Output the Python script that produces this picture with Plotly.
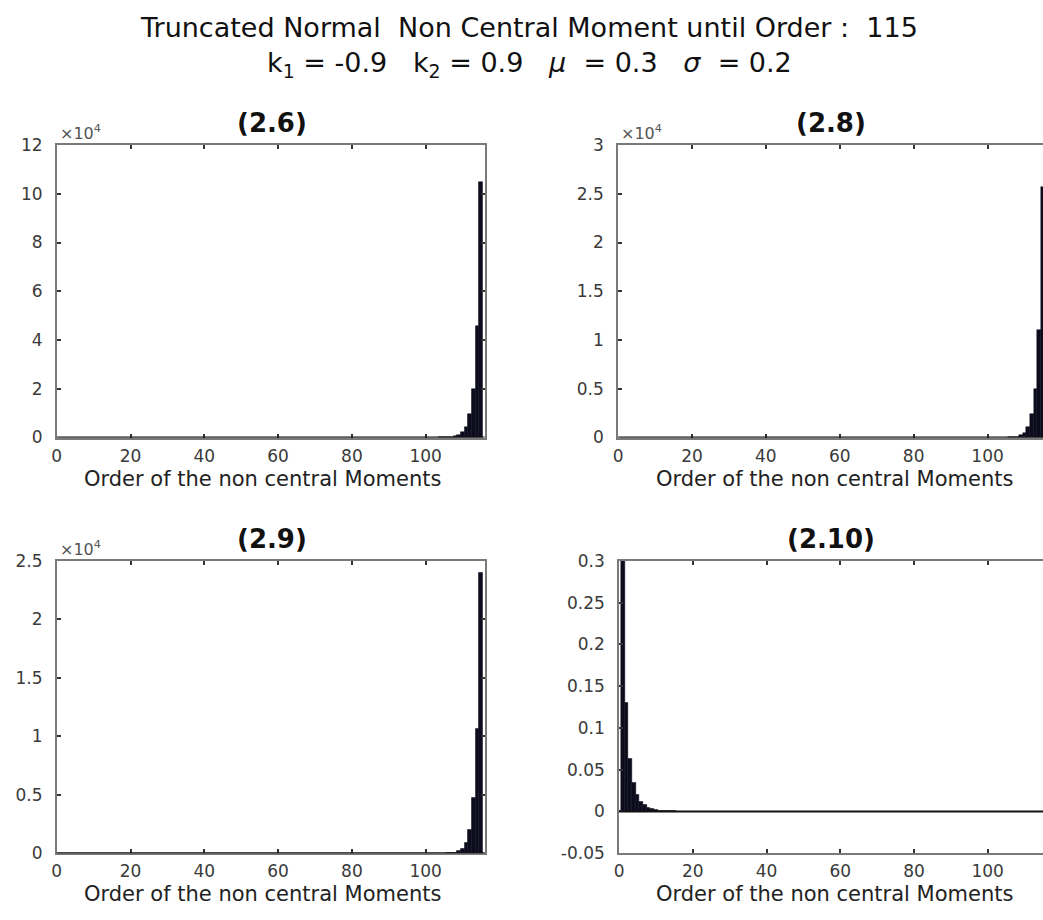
import plotly.graph_objects as go

# ---------------- data ----------------
orders = list(range(1, 116))

# (2.6)  values in units of 1e4, orders 1..115
m26 = [0.0] * 103 + [0.002, 0.004, 0.009, 0.02, 0.045, 0.1, 0.21, 0.45, 0.95, 1.98, 4.59, 10.47]
# (2.8)  values in units of 1e4
m28 = [0.0] * 105 + [0.002, 0.0045, 0.01, 0.022, 0.05, 0.11, 0.24, 0.50, 1.10, 2.57]
# (2.9)  values in units of 1e4
m29 = [0.0] * 105 + [0.0015, 0.0035, 0.008, 0.018, 0.04, 0.09, 0.2, 0.476, 1.06, 2.40]
# (2.10) plain values
m210 = [0.3, 0.13, 0.063, 0.0345, 0.020, 0.012, 0.0075, 0.0048, 0.0031, 0.002,
        0.0013, 0.0009, 0.0006, 0.0004, 0.0003] + [0.0] * 100

panel_titles = ["(2.6)", "(2.8)", "(2.9)", "(2.10)"]
x_ticks = [0, 20, 40, 60, 80, 100]
y26_ticks = [0, 2, 4, 6, 8, 10, 12]
y28_ticks = [0, 0.5, 1, 1.5, 2, 2.5, 3]
y28_labels = ["0", "0.5", "1", "1.5", "2", "2.5", "3"]
y29_ticks = [0, 0.5, 1, 1.5, 2, 2.5]
y29_labels = ["0", "0.5", "1", "1.5", "2", "2.5"]
y210_ticks = [-0.05, 0, 0.05, 0.1, 0.15, 0.2, 0.25, 0.3]
y210_labels = ["-0.05", "0", "0.05", "0.1", "0.15", "0.2", "0.25", "0.3"]
x_label = "Order of the non central Moments"
title_line1 = "Truncated Normal  Non Central Moment until Order :  115"
title_line2 = "k<sub>1</sub> = -0.9   k<sub>2</sub> = 0.9   <i>μ</i>  = 0.3   <i>σ</i>  = 0.2"

# ---------------- layout helpers ----------------
W, H = 1043, 920
def fx(px):
    return px / W
def fy(py):
    return 1 - py / H

BAR_COLOR = "#0c0c1c"
AX_COLOR = "#7a7a7a"
FONT = "DejaVu Sans"

fig = go.Figure()
series = [m26, m28, m29, m210]
for i, s in enumerate(series):
    k = "" if i == 0 else str(i + 1)
    fig.add_trace(go.Bar(
        x=orders, y=s, width=1.0,
        marker=dict(color=BAR_COLOR, line=dict(color=BAR_COLOR, width=0.5)),
        xaxis="x" + k, yaxis="y" + k, showlegend=False, hoverinfo="skip"))

common = dict(showline=True, linecolor=AX_COLOR, linewidth=1.6, ticks="inside",
              ticklen=4, tickwidth=1.5, tickcolor="#333333", showgrid=False,
              zeroline=False, tickfont=dict(family=FONT, size=17, color="#3a3a3a"))
xcommon = dict(common, ticklabelstandoff=2, mirror="ticks", tickvals=x_ticks)
ycommon = dict(common, ticklabelstandoff=9)

xl = [fx(52), fx(482)]
xr2 = [fx(616), 1.0]
xr4 = [fx(617), 1.0]
yt = [fy(437), fy(138)]
yb = [fy(862), fy(563)]

fig.update_layout(
    width=W, height=H, margin=dict(l=0, r=0, t=0, b=0),
    paper_bgcolor="white", plot_bgcolor="white", bargap=0,
    xaxis=dict(domain=xl, range=[0, 116], anchor="y", **xcommon),
    yaxis=dict(domain=yt, range=[0, 12], anchor="x", tickvals=y26_ticks, mirror="ticks", **ycommon),
    xaxis2=dict(domain=xr2, range=[0, 115.0], anchor="y2", **xcommon),
    yaxis2=dict(domain=yt, range=[0, 3], anchor="x2", tickvals=y28_ticks, ticktext=y28_labels, mirror=False, **ycommon),
    xaxis3=dict(domain=xl, range=[0, 116], anchor="y3", **xcommon),
    yaxis3=dict(domain=yb, range=[0, 2.5], anchor="x3", tickvals=y29_ticks, ticktext=y29_labels, mirror="ticks", **ycommon),
    xaxis4=dict(domain=xr4, range=[0, 115.0], anchor="y4", **xcommon),
    yaxis4=dict(domain=yb, range=[-0.05, 0.3], anchor="x4", tickvals=y210_ticks, ticktext=y210_labels, mirror=False, **ycommon),
)

# bar baselines (y = 0)
for k in ["", "2", "3", "4"]:
    fig.add_shape(type="line", xref="x" + k + " domain", yref="y" + k,
                  x0=0, x1=1, y0=0, y1=0, line=dict(color="#111111", width=2))

def label(text, cx, cy, size, color="#111111", xanchor="center"):
    return dict(text=text, x=fx(cx), y=fy(cy), xref="paper", yref="paper",
                xanchor=xanchor, yanchor="middle", showarrow=False,
                font=dict(family=FONT, size=size, color=color))

ann = []
# main title (two lines in one text block)
ann.append(label(title_line1 + "<br>" + title_line2, 527, 38, 27))
# panel titles
for t, (cx, cy) in zip(panel_titles, [(268, 116), (830, 116), (268, 541), (830, 541)]):
    ann.append(label("<b>" + t + "</b>", cx, cy, 26))
# x labels
for cx, cy in [(259, 479), (833, 479), (259, 904), (833, 904)]:
    ann.append(label(x_label, cx, cy, 21, color="#222222"))
# exponent labels
for cx, cy in [(53, 125), (617, 125), (53, 550)]:
    ann.append(label("×10<sup>4</sup>", cx, cy, 16, color="#555555", xanchor="left"))
fig.update_layout(annotations=ann)

fig.write_html("out.html")
